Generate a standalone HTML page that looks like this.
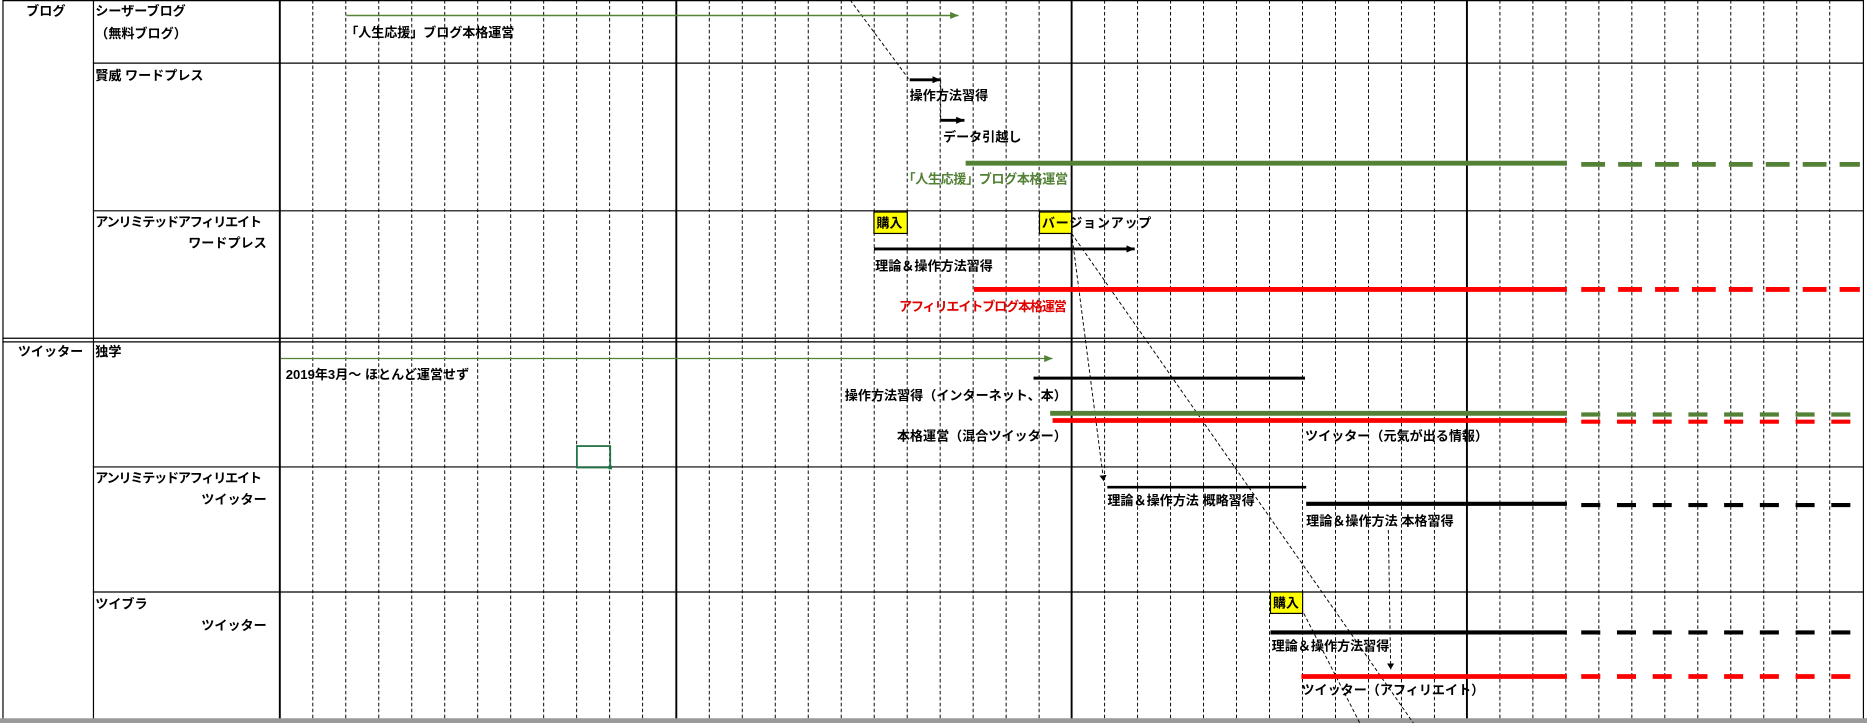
<!DOCTYPE html>
<html><head><meta charset="utf-8"><style>
html,body{margin:0;padding:0;background:#fff;}
svg{display:block;}
text{font-family:"Liberation Sans","Noto Sans CJK JP",sans-serif;font-size:11px;fill:#000;font-weight:bold;}
</style></head><body>
<svg width="1867" height="723" viewBox="0 0 1568 607" preserveAspectRatio="none" xmlns="http://www.w3.org/2000/svg">
<defs>
<marker id="ag" markerWidth="8" markerHeight="8" refX="7" refY="4" orient="auto" markerUnits="userSpaceOnUse"><path d="M0,1 L7,4 L0,7 z" fill="#538135"/></marker>
<marker id="ab" markerWidth="8" markerHeight="8" refX="7" refY="4" orient="auto" markerUnits="userSpaceOnUse"><path d="M0,1 L7,4 L0,7 z" fill="#000"/></marker>
<marker id="as" markerWidth="6" markerHeight="6" refX="5" refY="3" orient="auto" markerUnits="userSpaceOnUse"><path d="M0,0 L5,3 L0,6 z" fill="#000"/></marker>
</defs>
<rect width="1568" height="607" fill="#fff"/>
<g stroke="#000" stroke-width="0.8" stroke-dasharray="3,2">
<line x1="262.7" y1="0" x2="262.7" y2="607"/><line x1="290.4" y1="0" x2="290.4" y2="607"/><line x1="318.1" y1="0" x2="318.1" y2="607"/><line x1="345.8" y1="0" x2="345.8" y2="607"/><line x1="373.5" y1="0" x2="373.5" y2="607"/><line x1="401.2" y1="0" x2="401.2" y2="607"/><line x1="428.9" y1="0" x2="428.9" y2="607"/><line x1="456.6" y1="0" x2="456.6" y2="607"/><line x1="484.3" y1="0" x2="484.3" y2="607"/><line x1="512" y1="0" x2="512" y2="607"/><line x1="539.7" y1="0" x2="539.7" y2="607"/>
<line x1="595.7" y1="0" x2="595.7" y2="607"/><line x1="623.4" y1="0" x2="623.4" y2="607"/><line x1="651.1" y1="0" x2="651.1" y2="607"/><line x1="678.8" y1="0" x2="678.8" y2="607"/><line x1="706.5" y1="0" x2="706.5" y2="607"/><line x1="734.2" y1="0" x2="734.2" y2="607"/><line x1="761.9" y1="0" x2="761.9" y2="607"/><line x1="789.6" y1="0" x2="789.6" y2="607"/><line x1="817.3" y1="0" x2="817.3" y2="607"/><line x1="845" y1="0" x2="845" y2="607"/><line x1="872.7" y1="0" x2="872.7" y2="607"/>
<line x1="927.7" y1="0" x2="927.7" y2="607"/><line x1="955.4" y1="0" x2="955.4" y2="607"/><line x1="983.1" y1="0" x2="983.1" y2="607"/><line x1="1010.8" y1="0" x2="1010.8" y2="607"/><line x1="1038.5" y1="0" x2="1038.5" y2="607"/><line x1="1066.2" y1="0" x2="1066.2" y2="607"/><line x1="1093.9" y1="0" x2="1093.9" y2="607"/><line x1="1121.6" y1="0" x2="1121.6" y2="607"/><line x1="1149.3" y1="0" x2="1149.3" y2="607"/><line x1="1177" y1="0" x2="1177" y2="607"/><line x1="1204.7" y1="0" x2="1204.7" y2="607"/>
<line x1="1259.7" y1="0" x2="1259.7" y2="607"/><line x1="1287.4" y1="0" x2="1287.4" y2="607"/><line x1="1315.1" y1="0" x2="1315.1" y2="607"/><line x1="1342.8" y1="0" x2="1342.8" y2="607"/><line x1="1370.5" y1="0" x2="1370.5" y2="607"/><line x1="1398.2" y1="0" x2="1398.2" y2="607"/><line x1="1425.9" y1="0" x2="1425.9" y2="607"/><line x1="1453.6" y1="0" x2="1453.6" y2="607"/><line x1="1481.3" y1="0" x2="1481.3" y2="607"/><line x1="1509" y1="0" x2="1509" y2="607"/><line x1="1536.7" y1="0" x2="1536.7" y2="607"/>
</g>
<g stroke="#000" stroke-width="1">
<line x1="2" y1="0.5" x2="1565" y2="0.5"/>
<line x1="78" y1="53" x2="1565" y2="53"/>
<line x1="78" y1="177" x2="1565" y2="177"/>
<line x1="2" y1="284" x2="1565" y2="284"/>
<line x1="2" y1="287" x2="1565" y2="287"/>
<line x1="78" y1="392" x2="1565" y2="392"/>
<line x1="78" y1="497" x2="1565" y2="497"/>
<line x1="2.5" y1="0" x2="2.5" y2="607"/>
<line x1="78.5" y1="0" x2="78.5" y2="607"/>
<line x1="1565" y1="0" x2="1565" y2="607"/>
</g>
<g stroke="#000" stroke-width="1.6">
<line x1="235" y1="0" x2="235" y2="607"/><line x1="568" y1="0" x2="568" y2="607"/><line x1="900" y1="0" x2="900" y2="607"/><line x1="1232" y1="0" x2="1232" y2="607"/>
</g>
<rect x="0" y="603" width="1568" height="4" fill="#9a9a9a"/>

<text x="22" y="13">ブログ</text>
<text x="80" y="13">シーザーブログ</text>
<text x="80" y="32">（無料ブログ）</text>
<text x="80" y="67">賢威 ワードプレス</text>
<text x="80" y="190" textLength="140">アンリミテッドアフィリエイト</text>
<text x="224" y="208" text-anchor="end">ワードプレス</text>
<text x="15" y="299">ツイッター</text>
<text x="80" y="299">独学</text>
<text x="80" y="405" textLength="140">アンリミテッドアフィリエイト</text>
<text x="224" y="423" text-anchor="end">ツイッター</text>
<text x="80" y="511">ツイブラ</text>
<text x="224" y="529" text-anchor="end">ツイッター</text>

<g stroke="#000" stroke-width="0.8" stroke-dasharray="3,2" fill="none">
<line x1="714" y1="0" x2="763" y2="66"/>
<line x1="790" y1="67" x2="790" y2="100"/>
<line x1="900" y1="196" x2="927" y2="404" marker-end="url(#as)"/>
<line x1="900" y1="196" x2="1187" y2="607"/>
<line x1="1095" y1="515" x2="1142" y2="607"/>
<line x1="1166" y1="445" x2="1168" y2="562" marker-end="url(#as)"/>
</g>

<line x1="291" y1="13" x2="805" y2="13" stroke="#538135" stroke-width="1.3" marker-end="url(#ag)"/>
<text x="290" y="31" textLength="142">「人生応援」ブログ本格運営</text>
<line x1="764" y1="67" x2="790" y2="67" stroke="#000" stroke-width="2.5" marker-end="url(#ab)"/>
<text x="764" y="84">操作方法習得</text>
<line x1="790" y1="101" x2="810" y2="101" stroke="#000" stroke-width="2.5" marker-end="url(#ab)"/>
<text x="792" y="119">データ引越し</text>
<line x1="811" y1="137" x2="1316" y2="137" stroke="#538135" stroke-width="4"/>
<line x1="1328" y1="138" x2="1562" y2="138" stroke="#538135" stroke-width="4" stroke-dasharray="20,11"/>
<text x="758" y="154" textLength="139" style="fill:#538135">「人生応援」ブログ本格運営</text>
<rect x="734" y="178" width="28" height="18" fill="#ffff00" stroke="#000" stroke-width="1"/>
<text x="736" y="191">購入</text>
<rect x="873" y="178" width="27" height="18" fill="#ffff00" stroke="#000" stroke-width="1"/>
<text x="875" y="191" textLength="92">バージョンアップ</text>
<line x1="734" y1="209" x2="953" y2="209" stroke="#000" stroke-width="2.5" marker-end="url(#ab)"/>
<text x="735" y="227">理論＆操作方法習得</text>
<line x1="818" y1="243" x2="1316" y2="243" stroke="#f00" stroke-width="4"/>
<line x1="1328" y1="243" x2="1562" y2="243" stroke="#f00" stroke-width="4" stroke-dasharray="20,11"/>
<text x="755" y="261" textLength="141" style="fill:#e00000">アフィリエイトブログ本格運営</text>

<line x1="236" y1="301" x2="884" y2="301" stroke="#538135" stroke-width="1" marker-end="url(#ag)"/>
<text x="240" y="318">2019年3月～ ほとんど運営せず</text>
<line x1="868" y1="317.5" x2="1096" y2="317.5" stroke="#000" stroke-width="2.5"/>
<text x="896" y="336" text-anchor="end">操作方法習得（インターネット、本）</text>
<line x1="882" y1="347" x2="1316" y2="347" stroke="#538135" stroke-width="4"/>
<line x1="884" y1="353" x2="1316" y2="353" stroke="#f00" stroke-width="4"/>
<line x1="1328" y1="348" x2="1562" y2="348" stroke="#538135" stroke-width="3.5" stroke-dasharray="16,14"/>
<line x1="1328" y1="354" x2="1562" y2="354" stroke="#f00" stroke-width="3.5" stroke-dasharray="16,14"/>
<text x="896" y="370" text-anchor="end">本格運営（混合ツイッター）</text>
<text x="1096" y="370">ツイッター（元気が出る情報）</text>
<rect x="484.5" y="374.5" width="28" height="18" fill="none" stroke="#217346" stroke-width="1.5"/>
<rect x="511" y="391" width="3" height="3" fill="#217346"/>
<line x1="930" y1="409" x2="1097" y2="409" stroke="#000" stroke-width="2.2"/>
<text x="930" y="424">理論＆操作方法  概略習得</text>
<line x1="1097" y1="423" x2="1316" y2="423" stroke="#000" stroke-width="3.5"/>
<line x1="1328" y1="424" x2="1562" y2="424" stroke="#000" stroke-width="3.5" stroke-dasharray="16,14"/>
<text x="1097" y="441">理論＆操作方法  本格習得</text>
<rect x="1067" y="497" width="27" height="18" fill="#ffff00" stroke="#000" stroke-width="1"/>
<text x="1069" y="510">購入</text>
<line x1="1067" y1="531" x2="1316" y2="531" stroke="#000" stroke-width="3.5"/>
<line x1="1328" y1="531" x2="1562" y2="531" stroke="#000" stroke-width="3.5" stroke-dasharray="16,14"/>
<text x="1068" y="546">理論＆操作方法習得</text>
<line x1="1093" y1="568" x2="1316" y2="568" stroke="#f00" stroke-width="4"/>
<line x1="1328" y1="568" x2="1562" y2="568" stroke="#f00" stroke-width="4" stroke-dasharray="16,14"/>
<text x="1093" y="583">ツイッター（アフィリエイト）</text>
</svg>
</body></html>
